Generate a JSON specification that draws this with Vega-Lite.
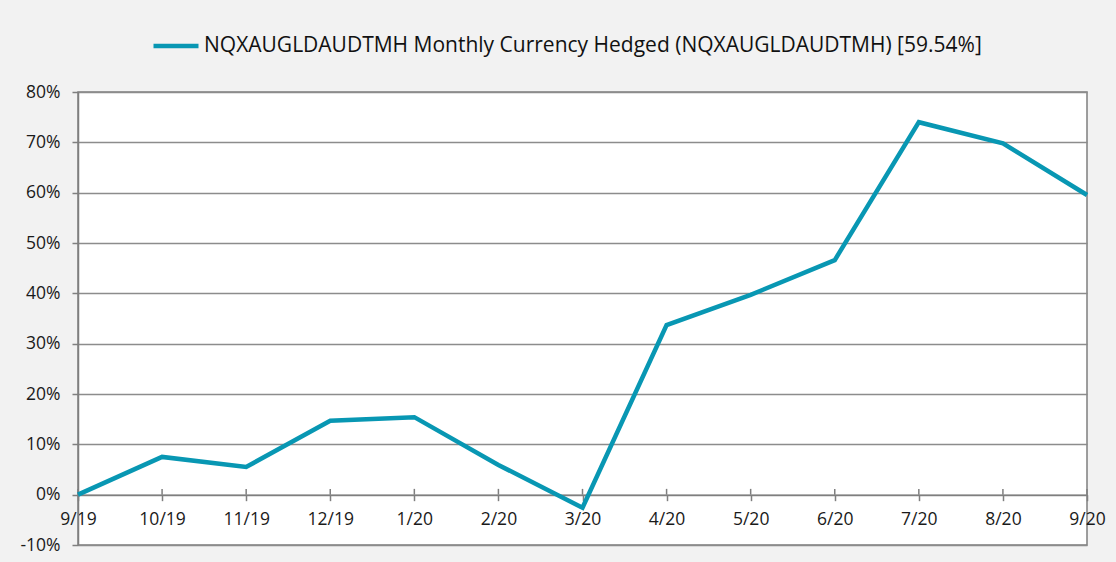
{
  "$schema": "https://vega.github.io/schema/vega-lite/v6.json",
  "width": 1009,
  "height": 453,
  "autosize": {"type": "none"},
  "padding": {"left": 78, "top": 92, "right": 29, "bottom": 17},
  "background": "#f2f2f2",
  "config": {
    "font": "Open Sans",
    "view": {"fill": "white", "stroke": "#7f7f7f", "strokeWidth": 1.5},
    "axis": {"labelFont": "Open Sans", "labelColor": "#1a1a1a", "domainColor": "#7f7f7f", "tickColor": "#7f7f7f", "gridColor": "#8c8c8c", "domainWidth": 1.5, "tickWidth": 1.5, "gridWidth": 1.5}
  },
  "data": {"values": [
    {"month": "9/19", "value": 0.0, "series": "NQXAUGLDAUDTMH Monthly Currency Hedged (NQXAUGLDAUDTMH) [59.54%]"},
    {"month": "10/19", "value": 7.5, "series": "NQXAUGLDAUDTMH Monthly Currency Hedged (NQXAUGLDAUDTMH) [59.54%]"},
    {"month": "11/19", "value": 5.5, "series": "NQXAUGLDAUDTMH Monthly Currency Hedged (NQXAUGLDAUDTMH) [59.54%]"},
    {"month": "12/19", "value": 14.7, "series": "NQXAUGLDAUDTMH Monthly Currency Hedged (NQXAUGLDAUDTMH) [59.54%]"},
    {"month": "1/20", "value": 15.4, "series": "NQXAUGLDAUDTMH Monthly Currency Hedged (NQXAUGLDAUDTMH) [59.54%]"},
    {"month": "2/20", "value": 5.9, "series": "NQXAUGLDAUDTMH Monthly Currency Hedged (NQXAUGLDAUDTMH) [59.54%]"},
    {"month": "3/20", "value": -2.6, "series": "NQXAUGLDAUDTMH Monthly Currency Hedged (NQXAUGLDAUDTMH) [59.54%]"},
    {"month": "4/20", "value": 33.7, "series": "NQXAUGLDAUDTMH Monthly Currency Hedged (NQXAUGLDAUDTMH) [59.54%]"},
    {"month": "5/20", "value": 39.7, "series": "NQXAUGLDAUDTMH Monthly Currency Hedged (NQXAUGLDAUDTMH) [59.54%]"},
    {"month": "6/20", "value": 46.6, "series": "NQXAUGLDAUDTMH Monthly Currency Hedged (NQXAUGLDAUDTMH) [59.54%]"},
    {"month": "7/20", "value": 74.0, "series": "NQXAUGLDAUDTMH Monthly Currency Hedged (NQXAUGLDAUDTMH) [59.54%]"},
    {"month": "8/20", "value": 69.8, "series": "NQXAUGLDAUDTMH Monthly Currency Hedged (NQXAUGLDAUDTMH) [59.54%]"},
    {"month": "9/20", "value": 59.54, "series": "NQXAUGLDAUDTMH Monthly Currency Hedged (NQXAUGLDAUDTMH) [59.54%]"}
  ]},
  "encoding": {
    "x": {"field": "month", "type": "ordinal", "sort": null, "scale": {"type": "point", "padding": 0},
      "axis": {"title": null, "labelAngle": 0, "labelFontSize": 17.5, "offset": -50.33, "tickSize": 6, "labelPadding": 10, "grid": false}}
  },
  "layer": [
    {
      "mark": {"type": "rule", "color": "#7f7f7f", "strokeWidth": 1.5},
      "encoding": {"y": {"datum": 0, "type": "quantitative"}, "y2": {"datum": 1.15}}
    },
    {
      "mark": {"type": "line", "strokeWidth": 4.5, "strokeJoin": "miter"},
      "encoding": {
        "y": {"field": "value", "type": "quantitative",
          "scale": {"domain": [-10, 80], "nice": false, "zero": false},
          "axis": {"title": null, "values": [-10, 0, 10, 20, 30, 40, 50, 60, 70, 80], "labelExpr": "datum.value + '%'", "labelFontSize": 17.5, "tickSize": 6, "labelPadding": 12, "grid": true}},
        "color": {"field": "series", "type": "nominal", "scale": {"range": ["#0897b3"]},
          "legend": {"title": null, "orient": "none", "legendX": 73, "legendY": -71, "symbolType": "stroke", "symbolSize": 2025, "symbolStrokeWidth": 4.5, "labelFontSize": 21, "labelFont": "Open Sans", "labelColor": "#111111", "labelOffset": 3, "labelLimit": 1000}}
      }
    }
  ]
}
